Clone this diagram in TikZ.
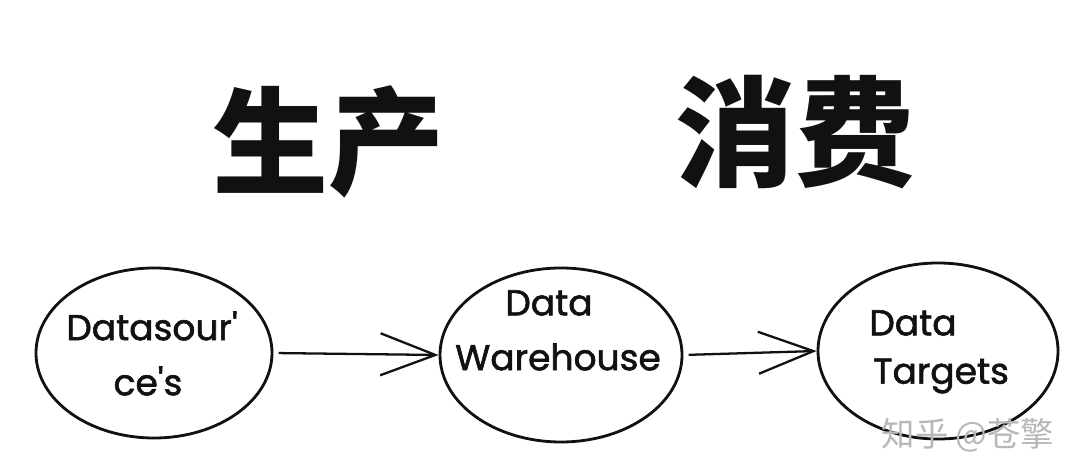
\documentclass[tikz,border=0pt]{standalone}
\usepackage{fontspec}
\setmainfont{Poppins}
\newfontfamily\handfont[FakeBold=1.6]{Poppins}
\newfontfamily\cjkfont{Noto Sans CJK SC}
\usetikzlibrary{arrows.meta, shapes.geometric}
\definecolor{inkblack}{HTML}{111111}
\definecolor{markgray}{HTML}{B8B8B8}

\begin{document}
\begin{tikzpicture}[x=0.2mm, y=-0.2mm,
    stage/.style={ellipse, draw=inkblack, line width=1.6pt, inner sep=0pt},
    hand/.style={font=\handfont\fontsize{20.5}{24}\selectfont, text=inkblack},
    flow/.style={-{Straight Barb[length=11mm, width=8.4mm]}, line width=1.3pt, draw=inkblack, shorten <=3pt}]
  \fill[white] (0,0) rectangle (1090,476);
  \useasboundingbox (0,0) rectangle (1090,476);

  % Titulos
  \node[font=\cjkfont\bfseries\fontsize{66}{70}\selectfont, text=inkblack] (prod) at (328,142) {生产};
  \node[font=\cjkfont\bfseries\fontsize{68}{72}\selectfont, text=inkblack] (cons) at (795,132) {消费};

  % Fuentes de datos
  \node[stage, minimum width=47.2mm, minimum height=34mm] (src) at (154,353) {};
  \node[hand] (srca) at (152,326) {Datasour'};
  \node[hand] (srcb) at (148,381) {ce's};

  % Almacen
  \node[stage, minimum width=48.4mm, minimum height=34.8mm] (dwh) at (561,355) {};
  \node[hand] (dwha) at (549,303) {Data};
  \node[hand] (dwhb) at (558,357) {Warehouse};

  % Destinos
  \node[stage, minimum width=48mm, minimum height=35.2mm] (dst) at (938,351) {};
  \node[hand] (dsta) at (913,323) {Data};
  \node[hand] (dstb) at (941,376) {Targets};

  % Flujo
  \draw[flow] (src.east) -- (dwh.west);
  \draw[flow] (dwh.east) -- (dst.west);

  % Marca
  \node[font=\cjkfont\fontsize{19}{22}\selectfont, text=markgray] (mark) at (968,435) {知乎 @苍擎};
\end{tikzpicture}
\end{document}
